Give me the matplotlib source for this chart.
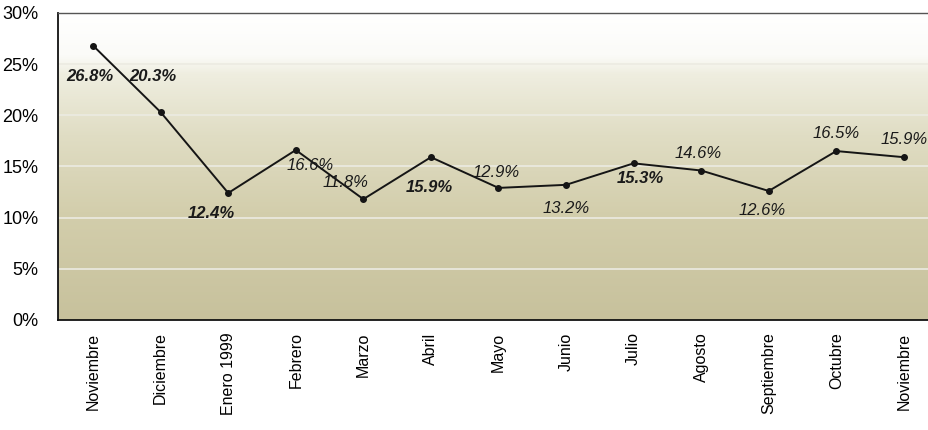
import matplotlib
matplotlib.use("Agg")
import matplotlib.pyplot as plt
import numpy as np
from matplotlib.colors import LinearSegmentedColormap
from matplotlib.ticker import FuncFormatter

# ---------------------------------------------------------------------------
# Data
# ---------------------------------------------------------------------------

months = [
    "Noviembre", "Diciembre", "Enero 1999", "Febrero", "Marzo", "Abril",
    "Mayo", "Junio", "Julio", "Agosto", "Septiembre", "Octubre", "Noviembre",
]
values = [26.8, 20.3, 12.4, 16.6, 11.8, 15.9, 12.9, 13.2, 15.3, 14.6, 12.6, 16.5, 15.9]

# label offsets in points (dx, dy) and weight per point
label_offsets = [
    (-2, -22), (-6, 26), (-12, -15), (10, -11), (-13, 12), (-1, -22),
    (-2, 11), (0, -17), (5, -11), (-2, 12), (-5, -14), (0, 13), (0, 13),
]
label_bold = [True, True, True, False, False, True,
              False, False, True, False, False, False, False]

# ---------------------------------------------------------------------------
# Figure
# ---------------------------------------------------------------------------

plt.rcParams["font.family"] = ["Liberation Sans", "DejaVu Sans"]

fig = plt.figure(figsize=(9.29, 4.30), dpi=100)
ax = fig.add_axes([0.0624, 0.256, 0.936, 0.714])

x = np.arange(len(values))
ax.set_xlim(-0.52, 12.35)
ax.set_ylim(0, 30)

# background gradient: white at top to olive-tan at bottom
cmap = LinearSegmentedColormap.from_list(
    "bg",
    [(0.0, "#c7c19c"), (0.35, "#d3ceac"), (0.6, "#e0ddc4"),
     (0.8, "#efeee0"), (0.86, "#fbfbf8"), (1.0, "#ffffff")],
)
grad = np.linspace(0, 1, 256).reshape(-1, 1)
ax.imshow(grad, aspect="auto", cmap=cmap, origin="lower",
          extent=[-0.52, 12.35, 0, 30], zorder=0)

for yv in range(5, 30, 5):
    ax.axhline(yv, color="#ecebe2", lw=1.2, zorder=1)

ax.plot(x, values, color="#151515", lw=1.4, marker="o", ms=4, zorder=3)

for xi, v, (dx, dy), bold in zip(x, values, label_offsets, label_bold):
    ax.annotate(f"{v}%", (xi, v), xytext=(dx, dy), textcoords="offset points",
                ha="center", va="center", fontsize=12, style="italic",
                fontweight="bold" if bold else "normal", color="#1a1a1a",
                zorder=4)

ax.set_xticks(x)
ax.set_xticklabels(months, rotation=90, fontsize=11.5)
ax.set_yticks(range(0, 31, 5))
ax.yaxis.set_major_formatter(FuncFormatter(lambda v, _: f"{int(v)}%"))
ax.tick_params(axis="y", labelsize=13, length=0, pad=14)
ax.tick_params(axis="x", length=0, pad=9)

for side in ["left", "bottom"]:
    ax.spines[side].set_color("#111111")
    ax.spines[side].set_linewidth(1.3)
ax.spines["top"].set_color("#555555")
ax.spines["top"].set_linewidth(1.0)
ax.spines["right"].set_visible(False)

fig.savefig("out.png", dpi=100)
